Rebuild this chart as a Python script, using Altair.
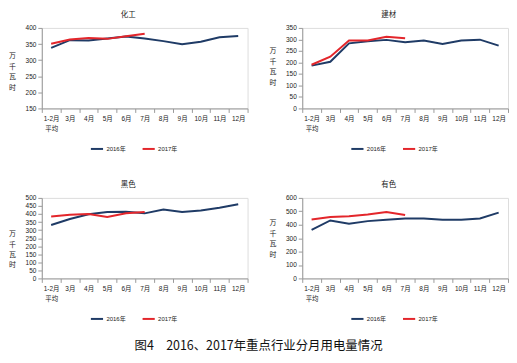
import altair as alt
import pandas as pd

months = ["1-2月", "3月", "4月", "5月", "6月", "7月", "8月", "9月", "10月", "11月", "12月"]
years = ["2016年", "2017年"]

chem_2016 = [338, 362, 361, 367, 373, 367, 359, 349, 357, 371, 375]
chem_2017 = [351, 364, 369, 366, 374, 382]
build_2016 = [186, 203, 283, 292, 298, 288, 295, 280, 295, 299, 273]
build_2017 = [190, 225, 295, 295, 312, 305]
ferrous_2016 = [332, 369, 398, 412, 414, 404, 428, 412, 422, 439, 461]
ferrous_2017 = [385, 395, 400, 381, 404, 412]
nonferrous_2016 = [361, 432, 407, 427, 437, 447, 447, 437, 437, 447, 490]
nonferrous_2017 = [439, 457, 464, 477, 495, 472]

FONT = "Noto Sans CJK SC"
NUMFONT = "Liberation Sans, Noto Sans CJK SC"
BLUE = "#1F3B66"
RED = "#E3262B"


def panel(name, v16, v17, lo, hi, step, title_y):
    rows = []
    for i, v in enumerate(v16):
        rows.append({"month": months[i], "i": i, "year": years[0], "value": v})
    for i, v in enumerate(v17):
        rows.append({"month": months[i], "i": i, "year": years[1], "value": v})
    df = pd.DataFrame(rows)
    ticks = list(range(lo, hi + 1, step))
    return alt.Chart(df).mark_line(strokeWidth=2).encode(
        x=alt.X("month:O", sort=months,
                scale=alt.Scale(type="band", paddingInner=0, paddingOuter=0),
                axis=alt.Axis(title=None, labelAngle=0, tickBand="extent",
                              labelExpr="datum.value == '1-2月' ? ['1-2月', '平均'] : datum.value",
                              labelFontSize=6.5, labelFont=NUMFONT, labelColor="#222",
                              labelLineHeight=10,
                              domainColor="#999", tickColor="#999", tickSize=4,
                              labelPadding=3, grid=False)),
        y=alt.Y("value:Q",
                scale=alt.Scale(domain=[lo, hi], nice=False, zero=False),
                axis=alt.Axis(values=ticks, grid=False, labelFontSize=6.5, labelFont=NUMFONT,
                              labelColor="#222", domainColor="#999", tickColor="#999",
                              tickSize=4, labelPadding=2,
                              title=["万", "千", "瓦", "时"], titleAngle=0,
                              titleFontSize=7, titleFont=FONT, titleFontWeight="normal",
                              titleAlign="center", titleBaseline="middle",
                              titleX=-30, titleY=title_y, titleLineHeight=10.5,
                              titleColor="#222")),
        color=alt.Color("year:N",
                        scale=alt.Scale(domain=years, range=[BLUE, RED]),
                        legend=alt.Legend(orient="none", legendX=48, legendY=114,
                                          title=None, symbolType="stroke",
                                          symbolSize=150, symbolStrokeWidth=2,
                                          labelFontSize=6, labelFont=NUMFONT, labelColor="#222",
                                          labelOffset=2,
                                          direction="horizontal", columnPadding=12)),
        order="i:Q",
    ).properties(
        width=207, height=81,
        title=alt.TitleParams(name, fontSize=7.5, font=FONT, fontWeight="normal",
                              frame="bounds", anchor="middle", offset=6, color="#222"),
    )


p1 = panel("化工", chem_2016, chem_2017, 150, 400, 50, 28)
p2 = panel("建材", build_2016, build_2017, 0, 350, 50, 23)
p3 = panel("黑色", ferrous_2016, ferrous_2017, 0, 500, 50, 36)
p4 = panel("有色", nonferrous_2016, nonferrous_2017, 0, 600, 100, 25)

row1 = alt.hconcat(p1, p2, spacing=20).resolve_scale(color="independent").resolve_legend(color="independent")
row2 = alt.hconcat(p3, p4, spacing=20).resolve_scale(color="independent").resolve_legend(color="independent")

chart = alt.vconcat(row1, row2, spacing=27).resolve_scale(color="independent").resolve_legend(
    color="independent"
).properties(
    title=alt.TitleParams("图4　2016、2017年重点行业分月用电量情况", orient="bottom",
                          anchor="middle", fontSize=12.5, font=FONT, fontWeight="normal",
                          offset=17, color="#111"),
).configure_view(stroke=None).configure(
    padding={"top": 2, "left": 0, "right": 0, "bottom": 0}, background="white"
)

chart.save("out.html", embed_options={"renderer": "svg", "actions": False})
